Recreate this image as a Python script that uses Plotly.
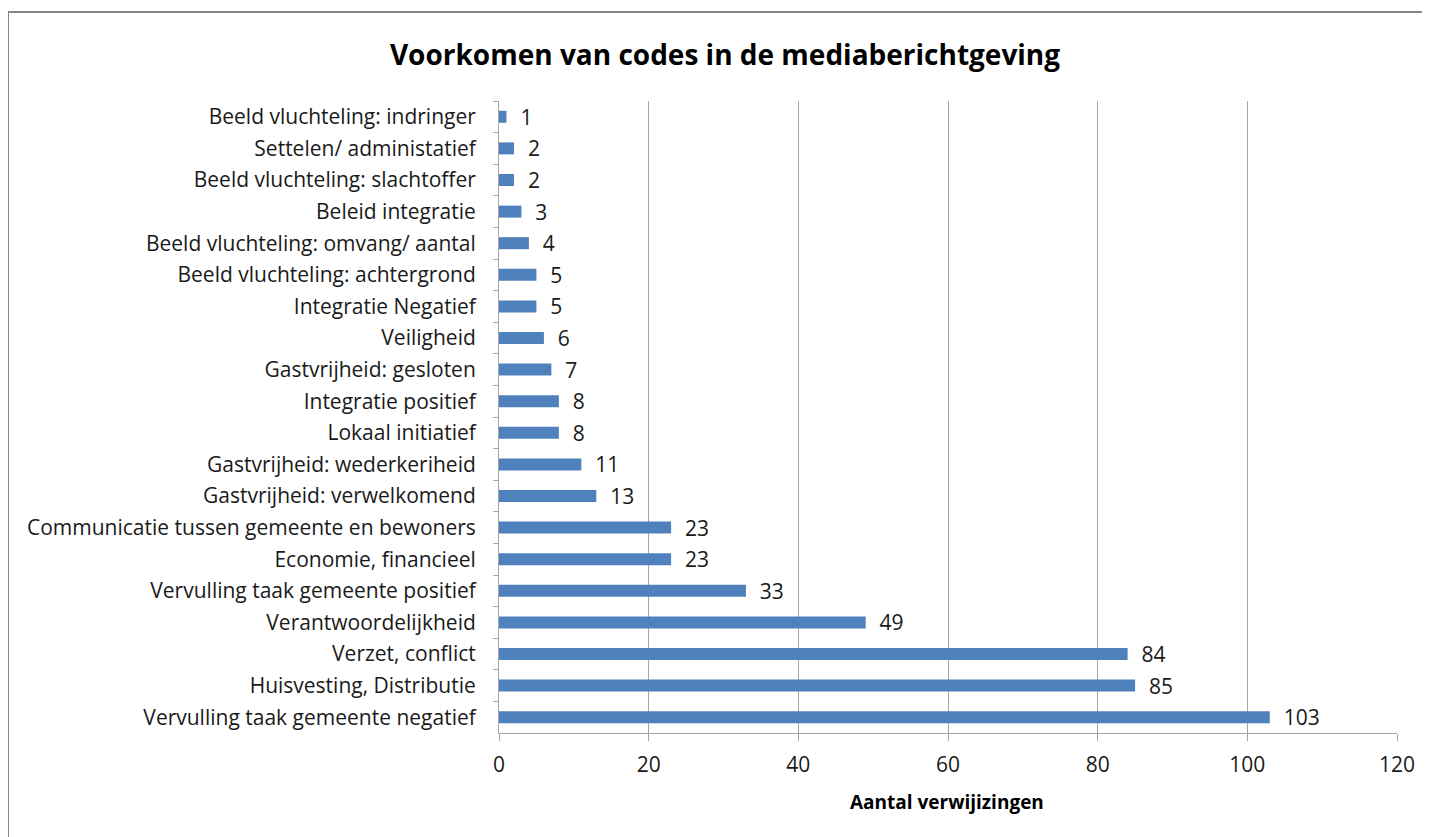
import plotly.graph_objects as go

categories = [
    "Beeld vluchteling: indringer",
    "Settelen/ administatief",
    "Beeld vluchteling: slachtoffer",
    "Beleid integratie",
    "Beeld vluchteling: omvang/ aantal",
    "Beeld vluchteling: achtergrond",
    "Integratie Negatief",
    "Veiligheid",
    "Gastvrijheid: gesloten",
    "Integratie positief",
    "Lokaal initiatief",
    "Gastvrijheid: wederkeriheid",
    "Gastvrijheid: verwelkomend",
    "Communicatie tussen gemeente en bewoners",
    "Economie, financieel",
    "Vervulling taak gemeente positief",
    "Verantwoordelijkheid",
    "Verzet, conflict",
    "Huisvesting, Distributie",
    "Vervulling taak gemeente negatief",
]
values = [1, 2, 2, 3, 4, 5, 5, 6, 7, 8, 8, 11, 13, 23, 23, 33, 49, 84, 85, 103]
x_ticks = [0, 20, 40, 60, 80, 100, 120]

title_text = "Voorkomen van codes in de mediaberichtgeving"
x_title = "Aantal verwijizingen"

FONT = "Open Sans, sans-serif"

# page has an 8px body margin; figure coordinates are screen coords minus 8
OFF = 8
W, H = 1430 - OFF, 837 - OFF
L = 499 - OFF
T = 101 - OFF
R = W - (1397 - OFF)
B = H - (733 - OFF)
pw = W - L - R
ph = H - T - B

def px(x):
    return (x - OFF - L) / pw

def py(y):
    return 1 - (y - OFF - T) / ph

fig = go.Figure()
fig.add_trace(go.Bar(
    y=categories,
    x=values,
    orientation="h",
    marker=dict(color="#4f81bd", line=dict(width=0)),
    width=0.38,
    text=["\u00a0\u00a0" + str(v) for v in values],
    textposition="outside",
    constraintext="none",
    textfont=dict(size=21, color="#1a1a1a", family=FONT),
    cliponaxis=False,
))

fig.update_layout(
    width=W, height=H,
    margin=dict(l=L, r=R, t=T, b=B),
    paper_bgcolor="white",
    plot_bgcolor="white",
    showlegend=False,
    font=dict(family=FONT, color="#1a1a1a"),
    title=dict(
        text="<b>" + title_text + "</b>",
        x=(725 - OFF) / W, xref="container", xanchor="center",
        y=1 - (55 - OFF) / H, yref="container", yanchor="middle",
        font=dict(size=28, color="#000000", family=FONT),
    ),
    xaxis=dict(
        range=[0, 120],
        tickvals=x_ticks,
        showgrid=True, gridcolor="#a6a6a6", gridwidth=1,
        showline=True, linecolor="#a6a6a6", linewidth=1,
        ticks="outside", ticklen=7, tickcolor="#a6a6a6",
        tickfont=dict(size=21, color="#1a1a1a"),
        ticklabelstandoff=6,
        zeroline=False,
    ),
    yaxis=dict(
        categoryorder="array",
        categoryarray=categories,
        autorange="reversed",
        showline=True, linecolor="#a6a6a6", linewidth=1,
        ticks="outside", ticklen=5, tickcolor="#a6a6a6",
        tickson="boundaries",
        tickfont=dict(size=21, color="#1a1a1a"),
        ticklabelstandoff=18,
        showgrid=False,
    ),
    annotations=[
        dict(text="<b>" + x_title + "</b>", xref="paper", yref="paper",
             x=px(947), y=py(802), xanchor="center", yanchor="middle",
             showarrow=False, font=dict(size=19, color="#000000", family=FONT)),
    ],
    shapes=[
        dict(type="rect", xref="paper", yref="paper",
             x0=px(8), x1=px(1445), y0=py(850), y1=py(12),
             line=dict(color="#868686", width=2), fillcolor="rgba(0,0,0,0)", layer="below"),
    ],
)

fig.write_html("out.html")
